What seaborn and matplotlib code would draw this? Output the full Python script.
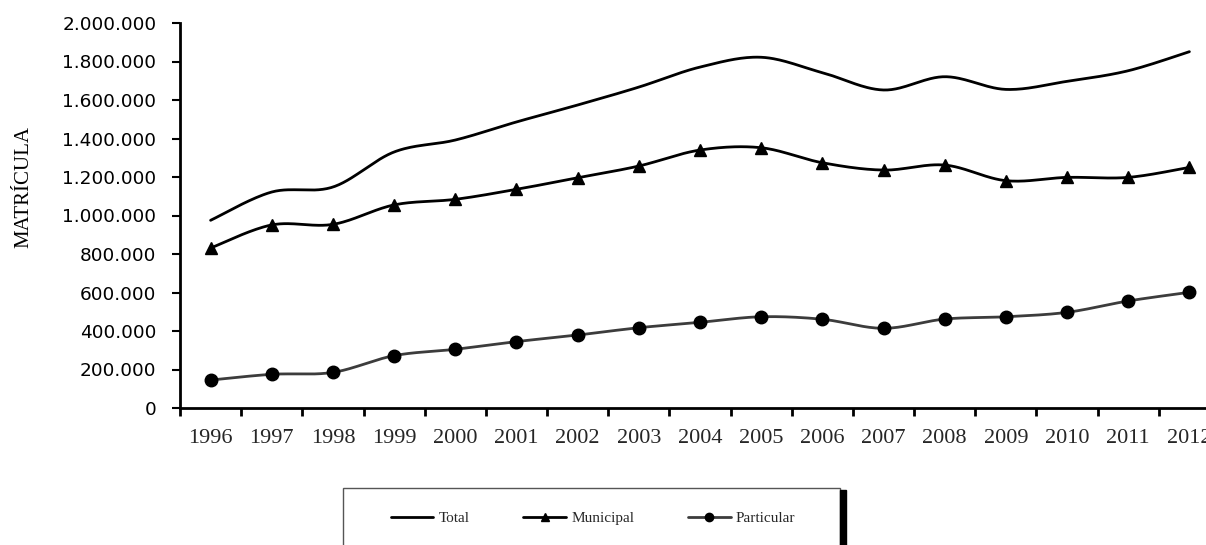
#!/usr/bin/env python3
"""Matricula by dependency 1996-2012, Excel-style smoothed lines."""

import numpy as np
import pandas as pd
import seaborn as sns
import matplotlib.pyplot as plt
from matplotlib.patches import Rectangle
from matplotlib.ticker import FuncFormatter


YEARS = [str(y) for y in range(1996, 2013)]

TOTAL = [975000, 1122000, 1148000, 1330000, 1392000, 1486000, 1574000, 1667000,
         1771000, 1822000, 1742000, 1652000, 1721000, 1655000, 1697000, 1752000, 1851000]
MUNICIPAL = [831000, 951000, 954000, 1055000, 1084000, 1136000, 1196000, 1257000,
             1340000, 1352000, 1274000, 1236000, 1262000, 1181000, 1198000, 1198000, 1250000]
PARTICULAR = [145000, 175000, 185000, 272000, 305000, 345000, 379000, 417000,
              445000, 474000, 461000, 414000, 462000, 474000, 497000, 556000, 601000]

SERIES = ["Total", "Municipal", "Particular"]
VALUES = [TOTAL, MUNICIPAL, PARTICULAR]


def smooth(y, steps=30):
    """Catmull-Rom style smoothing (like Excel's 'smoothed line')."""
    y = np.asarray(y, dtype=float)
    x = np.arange(len(y), dtype=float)
    px = np.concatenate([[x[0]], x, [x[-1]]])
    py = np.concatenate([[y[0]], y, [y[-1]]])
    xs, ys = [], []
    t = np.linspace(0, 1, steps, endpoint=False)
    for i in range(1, len(px) - 2):
        p0, p1, p2, p3 = px[i - 1], px[i], px[i + 1], px[i + 2]
        q0, q1, q2, q3 = py[i - 1], py[i], py[i + 1], py[i + 2]
        c1x, c1y = p1 + (p2 - p0) / 6, q1 + (q2 - q0) / 6
        c2x, c2y = p2 - (p3 - p1) / 6, q2 - (q3 - q1) / 6
        b = [(1 - t) ** 3, 3 * (1 - t) ** 2 * t, 3 * (1 - t) * t ** 2, t ** 3]
        xs.append(b[0] * p1 + b[1] * c1x + b[2] * c2x + b[3] * p2)
        ys.append(b[0] * q1 + b[1] * c1y + b[2] * c2y + b[3] * q2)
    xs.append([x[-1]])
    ys.append([y[-1]])
    return np.concatenate(xs), np.concatenate(ys)


def main():
    sns.set_theme(style="white")
    plt.rcParams["font.family"] = ["DejaVu Sans"]

    fig = plt.figure(figsize=(12.06, 5.45), dpi=100)
    ax = fig.add_axes([180 / 1206, 137 / 545, 1040 / 1206, 385 / 545])

    colors = ["black", "black", "#3c3c3c"]
    markers = [None, "^", "o"]
    msizes = [0, 9, 9]
    handles = []
    for name, vals, col, mk, ms in zip(SERIES, VALUES, colors, markers, msizes):
        sx, sy = smooth(vals)
        curve = pd.DataFrame({"x": sx, "y": sy})
        sns.lineplot(data=curve, x="x", y="y", ax=ax, color=col, lw=2, sort=False)
        pts = pd.DataFrame({"x": np.arange(len(vals)), "y": vals})
        if mk:
            ax.plot(pts["x"], pts["y"], ls="none", marker=mk, ms=ms,
                    color="black", zorder=3)
        h, = ax.plot([], [], color=col, lw=2, marker=mk, ms=6,
                     markerfacecolor="black", markeredgecolor="black")
        handles.append(h)

    ax.set_xlim(-0.5, 16.5)
    ax.set_ylim(0, 2000000)
    ax.set_yticks(np.arange(0, 2000001, 200000))
    ax.yaxis.set_major_formatter(FuncFormatter(lambda v, p: f"{int(v):,}".replace(",", ".")))
    ax.set_xticks(range(len(YEARS)))
    ax.set_xticklabels(YEARS, family="Liberation Serif", fontsize=16)
    ax.set_xticks(np.arange(-0.5, 16.6, 1), minor=True)
    ax.tick_params(axis="x", which="major", length=0, pad=15)
    ax.tick_params(axis="x", which="minor", length=6, width=2, color="black", direction="out", bottom=True)
    ax.tick_params(axis="y", length=6, width=1.5, color="black", direction="out", left=True,
                   labelsize=13.3, pad=11, labelcolor="black")

    for side in ["top", "right"]:
        ax.spines[side].set_visible(False)
    for side in ["left", "bottom"]:
        ax.spines[side].set_color("black")
        ax.spines[side].set_linewidth(2)

    ax.set_xlabel("")
    ax.set_ylabel("MATRÍCULA", family="Liberation Serif", fontsize=15, color="black")
    ax.yaxis.set_label_coords(-0.141, 0.574)

    # legend box with thick right edge
    fig.patches.append(Rectangle((343 / 1206, -0.1), 497 / 1206, (57 / 545) + 0.1,
                                 transform=fig.transFigure, fill=False,
                                 edgecolor="#555555", lw=1))
    fig.patches.append(Rectangle((840 / 1206, 0), 6 / 1206, 55 / 545,
                                 transform=fig.transFigure, color="black"))
    fig.legend(handles, SERIES, loc="center", bbox_to_anchor=(593 / 1206, 1 - 518 / 545),
               ncol=3, frameon=False, prop={"family": "Liberation Serif", "size": 11},
               handlelength=2.8, handletextpad=0.35, columnspacing=3.5,
               borderpad=0, borderaxespad=0)

    fig.savefig("out.png", dpi=100)


if __name__ == "__main__":
    main()
